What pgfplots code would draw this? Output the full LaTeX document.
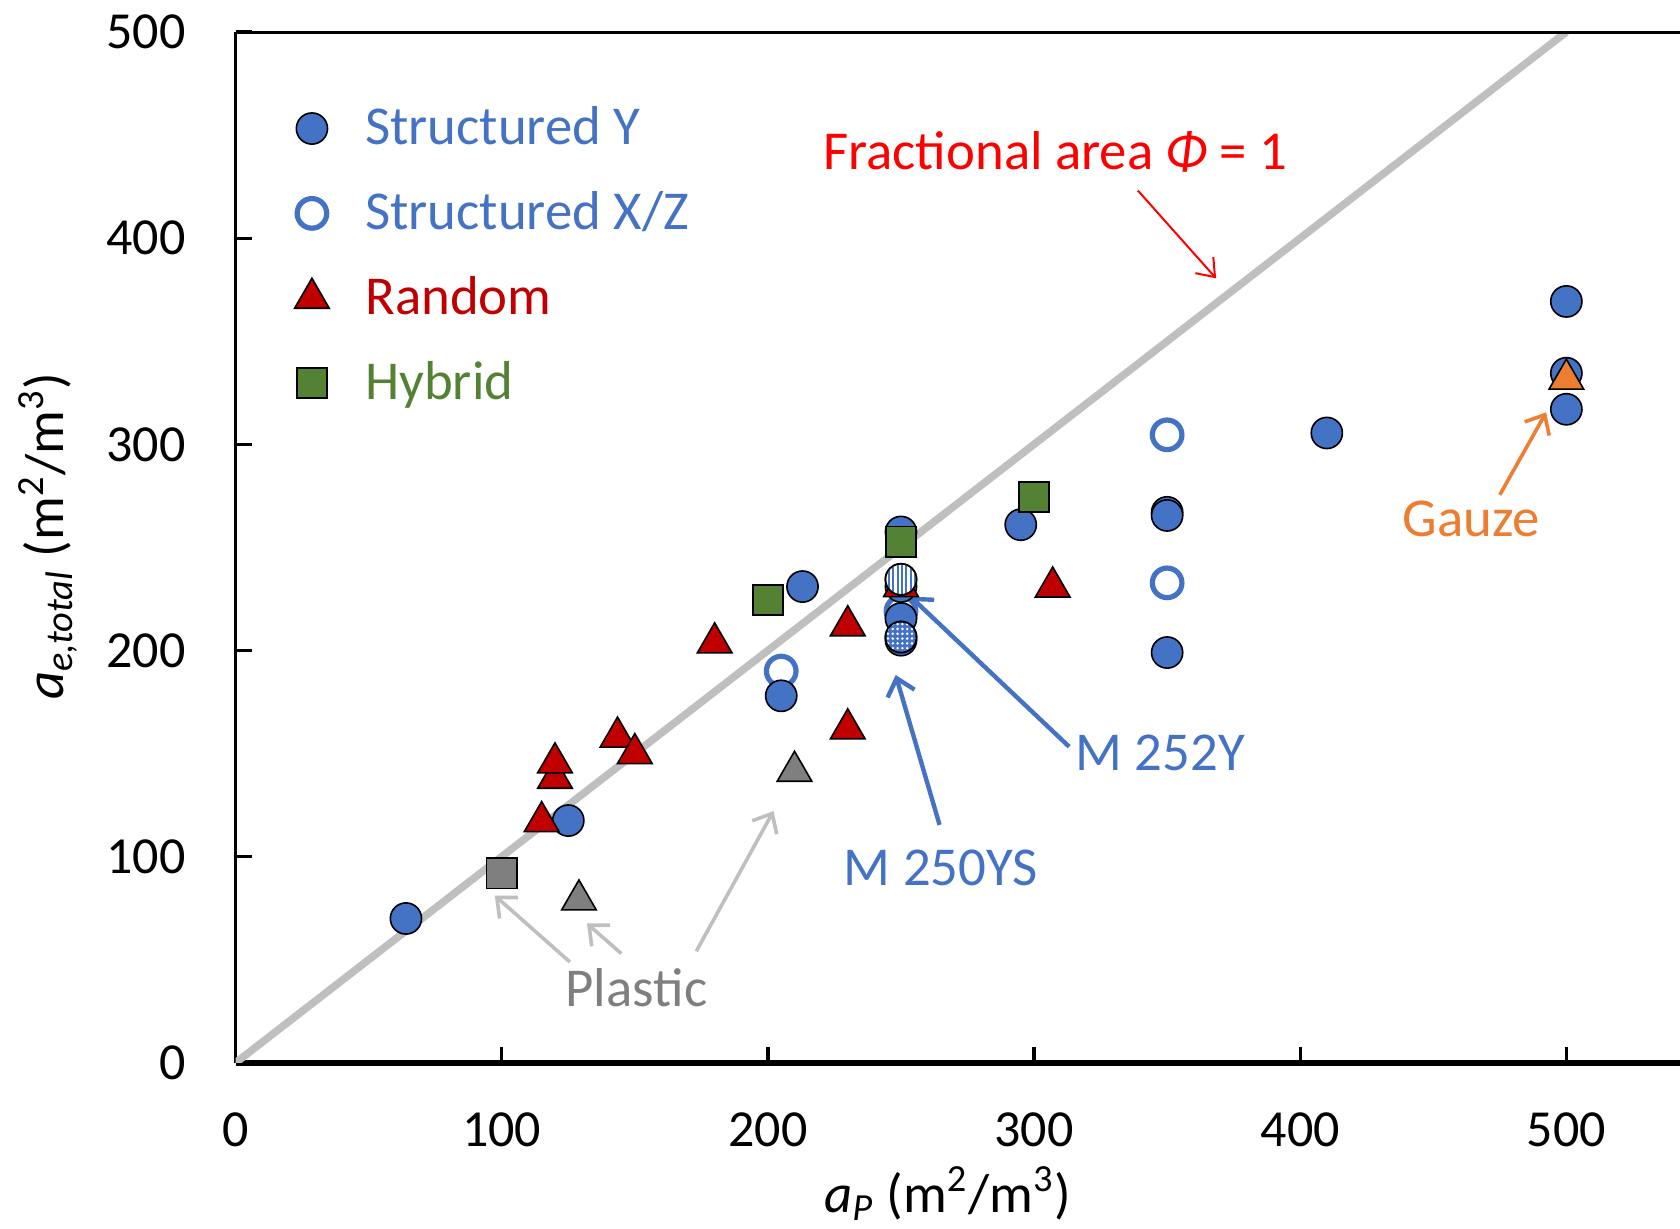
\documentclass[border=0pt]{standalone}
\usepackage{fontspec}
\setmainfont{Carlito}
\usepackage{pgfplots}
\pgfplotsset{compat=1.18}
\usetikzlibrary{arrows.meta,patterns.meta}

\definecolor{xblue}{HTML}{4472C4}
\definecolor{xred}{HTML}{C00000}
\definecolor{xgreen}{HTML}{548235}
\definecolor{xgray}{HTML}{7F7F7F}
\definecolor{xlgray}{HTML}{BFBFBF}
\definecolor{xorange}{HTML}{ED7D31}

\newcommand\fa{\fontsize{13.7}{16}\selectfont}
\newcommand\ft{\fontsize{13}{15}\selectfont}

\begin{document}
\begin{tikzpicture}
\useasboundingbox (0,0) rectangle (420pt,307.25pt);
\begin{axis}[
  at={(58.9pt,41.55pt)}, anchor=south west,
  scale only axis, width=361.1pt, height=257.7pt,
  xmin=0, xmax=542.7, ymin=0, ymax=500,
  axis x line*=bottom, axis y line*=left,
  x axis line style={line width=1.4pt,-},
  y axis line style={line width=0.9pt,-},
  xtick={0,100,...,500}, ytick={0,100,...,500},
  tick align=inside, major tick length=4pt,
  tick style={black, line width=0.8pt},
  ticklabel style={font=\ft},
  /pgf/number format/assume math mode=true,
  xticklabel style={yshift=-9pt},
  yticklabel style={xshift=-9pt},
  xlabel={\textit{a}\textsubscript{\textit{P}} (m\textsuperscript{2}/m\textsuperscript{3})},
  ylabel={\textit{a}\textsubscript{\textit{e,total}} (m\textsuperscript{2}/m\textsuperscript{3})},
  label style={font=\fa},
  xlabel style={at={(axis description cs:0.493,-0.127)}, anchor=center},
  ylabel style={at={(axis description cs:-0.130,0.511)}, anchor=center},
  legend style={draw=none, fill=none, font=\fa, at={(axis description cs:0.032,0.944)},
    anchor=north west, row sep=6.2pt, legend cell align=left,
    /tikz/every even column/.append style={column sep=0pt},
    nodes={inner xsep=9pt}},
  clip=true,
]
% legend
\addlegendimage{only marks, mark=*, mark size=3.9pt, mark options={draw=black, line width=0.4pt, fill=xblue}}
\addlegendentry{\textcolor{xblue}{Structured Y}}
\addlegendimage{only marks, mark=*, mark size=3.7pt, mark options={draw=xblue, line width=1.3pt, fill=white}}
\addlegendentry{\textcolor{xblue}{Structured X/Z}}
\addlegendimage{only marks, mark=triangle*, mark size=5pt, mark options={draw=black, line width=0.4pt, fill=xred}}
\addlegendentry{\textcolor{xred}{Random}}
\addlegendimage{only marks, mark=square*, mark size=3.8pt, mark options={draw=black, line width=0.4pt, fill=xgreen}}
\addlegendentry{\textcolor{xgreen}{Hybrid}}

% structured X/Z (open)
\addplot[only marks, mark=*, mark size=3.7pt, mark options={draw=xblue, line width=1.3pt, fill=white}, forget plot]
 coordinates {(205,190) (350,304.6) (350,232.8) (250,219)};
% structured Y (filled)
\addplot[only marks, mark=*, mark size=3.9pt, mark options={draw=black, line width=0.4pt, fill=xblue}, forget plot]
 coordinates {(64,70) (125,117.5) (205,178) (213,231) (250,257.5) (250,231) (250,215.5) (250,205)
  (295,261) (350,267) (350,265.5) (350,199) (410,305.5) (500,369.3) (500,334.5) (500,317)};
% hybrid
\addplot[only marks, mark=square*, mark size=3.8pt, mark options={draw=black, line width=0.4pt, fill=xgreen}, forget plot]
 coordinates {(200,224.5) (250,252.8) (300,274.4)};
% plastic square
\addplot[only marks, mark=square*, mark size=3.8pt, mark options={draw=black, line width=0.4pt, fill=xgray}, forget plot]
 coordinates {(100,92)};
% fractional area = 1
\addplot[xlgray, line width=1.9pt, forget plot] coordinates {(0,0) (500,500)};
% random
\addplot[only marks, mark=triangle*, mark size=5pt, mark options={draw=black, line width=0.4pt, fill=xred}, forget plot]
 coordinates {(115,117) (120,138) (120,145.5) (143.5,158) (150,150) (180,203.7) (230,212) (230,162)
  (307,230.8) (250,231)};
% plastic triangles
\addplot[only marks, mark=triangle*, mark size=5pt, mark options={draw=black, line width=0.4pt, fill=xgray}, forget plot]
 coordinates {(129,79) (210,141.4)};
% gauze
\addplot[only marks, mark=triangle*, mark size=5pt, mark options={draw=black, line width=0.4pt, fill=xorange}, forget plot]
 coordinates {(500,331.6)};
% M 252Y and M 250YS
\addplot[only marks, mark=*, mark size=3.9pt, mark options={draw=black, line width=0.4pt, fill=white}, forget plot]
 coordinates {(250,234.5)};
\addplot[only marks, mark=*, mark size=3.9pt, mark options={draw=black, line width=0.4pt, pattern={Lines[angle=90,distance=1.1pt,line width=0.5pt]}, pattern color=xblue}, forget plot]
 coordinates {(250,234.5)};
\addplot[only marks, mark=*, mark size=3.9pt, mark options={draw=black, line width=0.4pt, fill=xblue}, forget plot]
 coordinates {(250,206.5)};
\addplot[only marks, mark=*, mark size=3.9pt, mark options={draw=black, line width=0.4pt, pattern={Dots[distance=1.2pt,radius=0.35pt]}, pattern color=white}, forget plot]
 coordinates {(250,206.5)};

% annotations
\node[font=\fa, text=red] at (axis cs:308,441.8) {Fractional area \textit{Φ} = 1};
\draw[red, line width=0.5pt, -{Straight Barb[length=4pt,width=6pt]}] (axis cs:339,423.1) -- (axis cs:368.4,380.5);
\node[font=\fa, text=xorange] at (axis cs:464.2,264) {Gauze};
\draw[xorange, line width=0.9pt, -{Straight Barb[length=4pt,width=7pt]}] (axis cs:475,275.5) -- (axis cs:492.4,315.5);
\node[font=\fa, text=xblue] at (axis cs:347.4,150.2) {M 252Y};
\draw[xblue, line width=1.1pt, -{Straight Barb[length=4pt,width=7pt]}] (axis cs:313.2,153.3) -- (axis cs:253.6,226.1);
\node[font=\fa, text=xblue] at (axis cs:265,94.6) {M 250YS};
\draw[xblue, line width=1.1pt, -{Straight Barb[length=4pt,width=7pt]}] (axis cs:264.5,115.4) -- (axis cs:248,188.1);
\node[font=\fa, text=xgray] at (axis cs:150.6,36.4) {Plastic};
\draw[xlgray, line width=0.9pt, -{Straight Barb[length=4pt,width=7pt]}] (axis cs:125.6,48.9) -- (axis cs:97.4,81.1);
\draw[xlgray, line width=0.9pt, -{Straight Barb[length=4pt,width=7pt]}] (axis cs:144.9,53) -- (axis cs:132,67.6);
\draw[xlgray, line width=0.9pt, -{Straight Barb[length=4pt,width=7pt]}] (axis cs:173.1,54.1) -- (axis cs:202.1,122.1);
% top frame line
\draw[black, line width=0.9pt] (rel axis cs:0,1) -- (rel axis cs:1,1);
\end{axis}
\end{tikzpicture}
\end{document}
